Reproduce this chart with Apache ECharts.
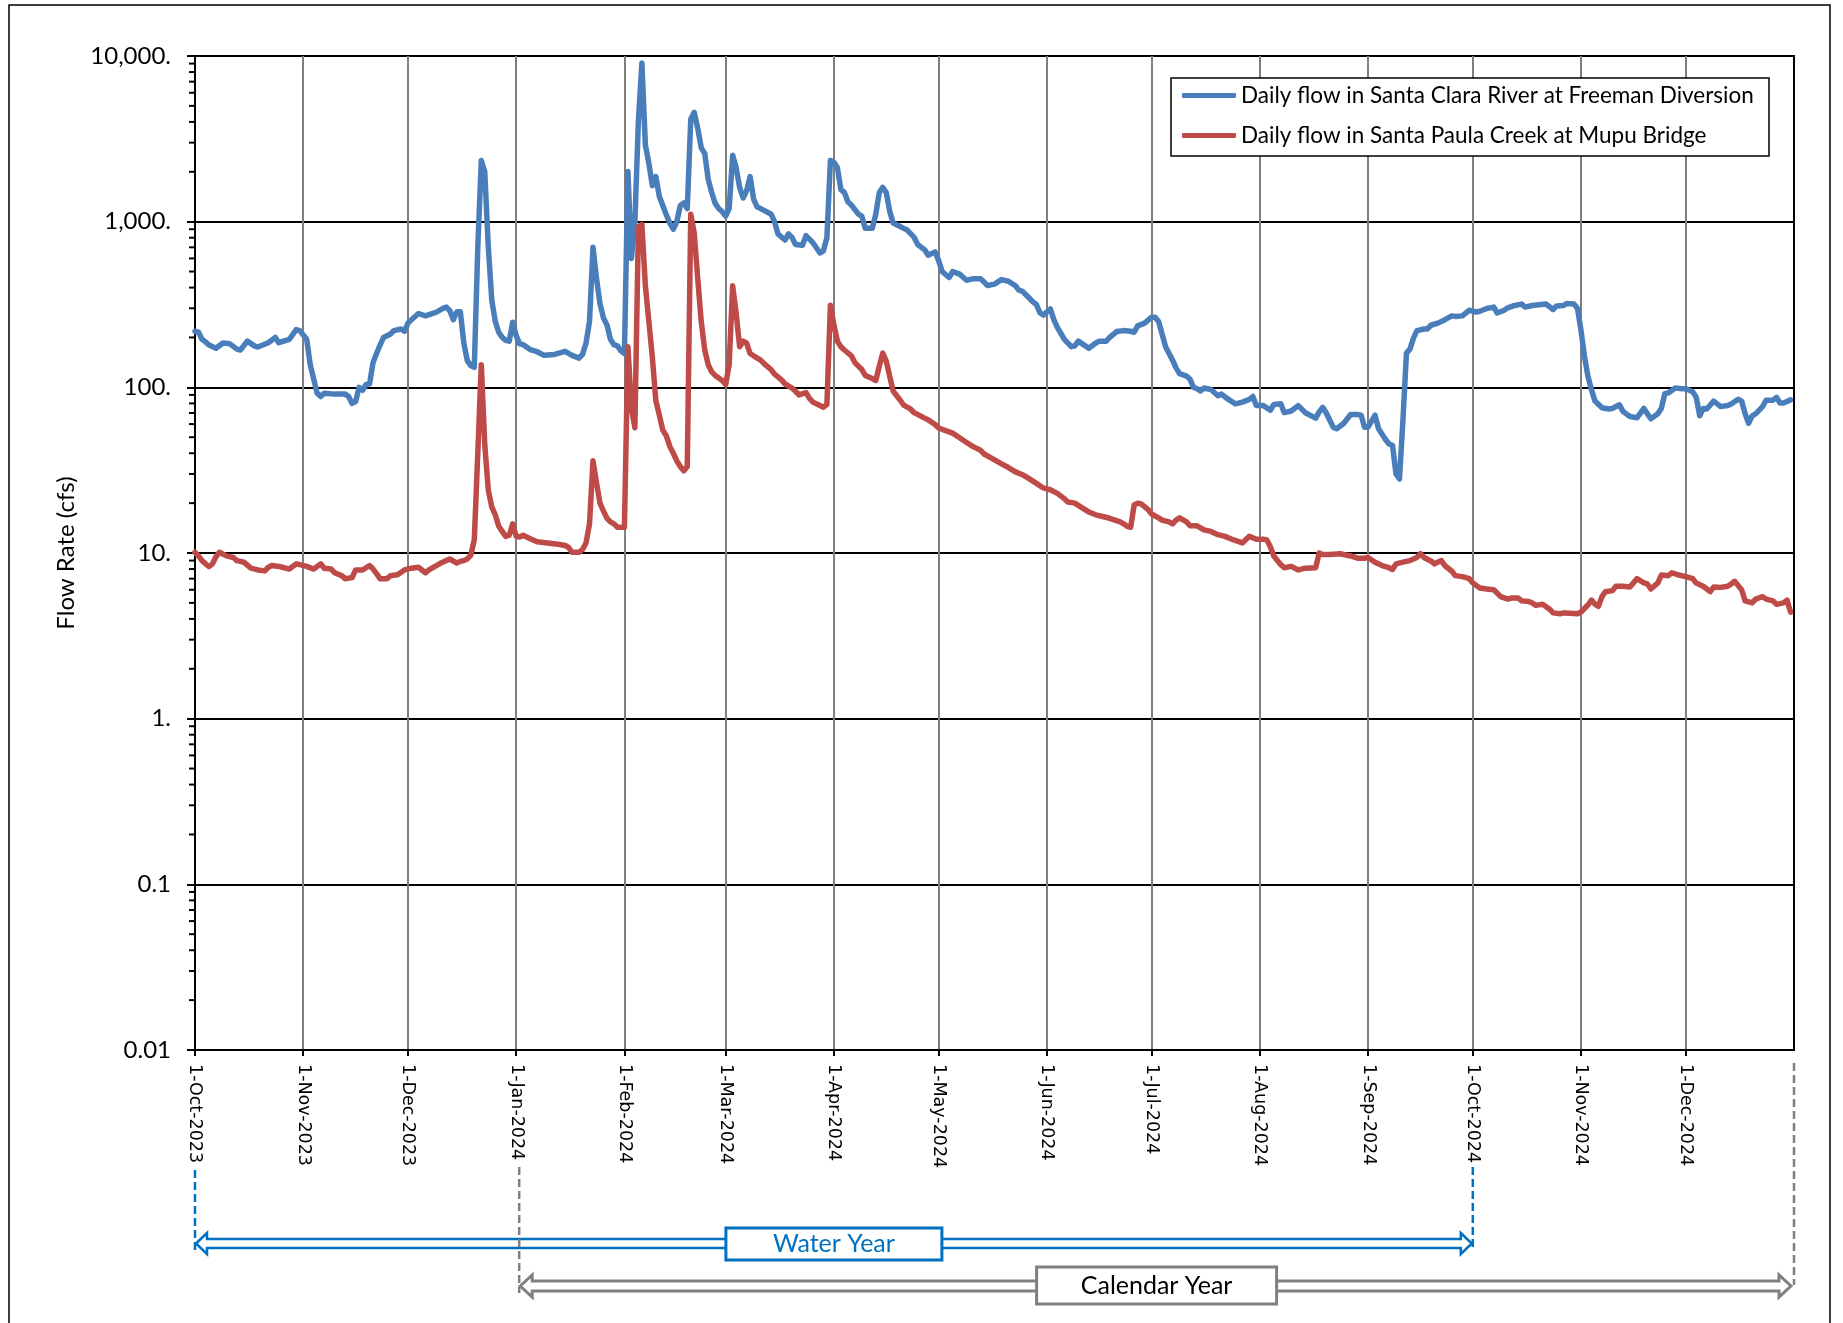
<!DOCTYPE html>
<html>
<head>
<meta charset="utf-8">
<title>Daily flow – Santa Clara River and Santa Paula Creek</title>
<script src="https://cdn.jsdelivr.net/npm/echarts@6/dist/echarts.min.js"></script>
<style>
  html, body { margin: 0; padding: 0; background: #fff; }
  #chart { width: 1843px; height: 1323px; }
</style>
</head>
<body>
<div id="chart"></div>
<script>
// Days are counted from 1-Oct-2023 (start of the 2024 water year).
const startYear = 2023, startMonth = 9, startDate = 1;
const axisEndDay = 458;            // 1-Jan-2025
const waterYearEndDay = 366;       // 1-Oct-2024
const calendarYearStartDay = 92;   // 1-Jan-2024

const monthTickDates = ['2023-10-01','2023-11-01','2023-12-01','2024-01-01','2024-02-01','2024-03-01',
  '2024-04-01','2024-05-01','2024-06-01','2024-07-01','2024-08-01','2024-09-01','2024-10-01',
  '2024-11-01','2024-12-01'];
const monthNames = ['Jan','Feb','Mar','Apr','May','Jun','Jul','Aug','Sep','Oct','Nov','Dec'];
const yTickValues = [0.01, 0.1, 1, 10, 100, 1000, 10000];
const yTickLabels = ['0.01', '0.1', '1.', '10.', '100.', '1,000.', '10,000.'];

const seriesNames = ['Daily flow in Santa Clara River at Freeman Diversion',
                     'Daily flow in Santa Paula Creek at Mupu Bridge'];

// Santa Clara River at Freeman Diversion (cfs)
const santaClaraDay = [0,1,2,3,4,6,8,10,12,13,15,17,18,21,23,24,27,29,30,32,33,35,36,37,40,43,44,45,46,47,48,49,50,51,52,53,54,56,57,59,60,61,62,64,66,69,71,72,73,74,75,76,77,78,79,80,81,82,83,84,85,86,87,88,89,90,91,92,93,94,96,98,100,103,106,108,110,111,112,113,114,115,116,117,118,119,120,121,122,123,124,125,126,127,128,129,130,131,132,133,135,136,137,138,139,140,141,142,143,144,145,146,147,148,149,150,151,152,153,154,155,156,157,158,159,160,161,163,164,165,166,167,169,170,171,172,174,175,176,177,179,180,181,182,183,184,185,186,187,188,190,191,192,194,195,196,197,198,199,200,201,203,204,206,207,209,210,212,213,214,216,217,219,221,223,225,226,227,229,231,233,235,236,237,239,240,241,242,243,245,246,247,248,249,251,252,253,255,256,258,259,261,262,264,266,268,269,270,272,274,275,276,277,278,279,280,281,282,284,285,286,287,288,289,291,293,294,296,298,300,302,303,304,306,308,309,311,312,314,316,318,321,322,323,324,326,327,329,331,333,334,335,336,338,339,341,342,343,344,345,346,347,348,349,350,352,353,354,356,358,360,361,363,365,367,368,370,372,373,375,376,378,380,381,383,385,387,389,390,392,393,395,396,397,398,399,400,401,403,405,406,408,409,411,413,415,416,417,419,420,421,422,424,426,427,429,430,431,432,433,435,437,439,440,442,443,444,445,446,447,449,450,452,453,454,455,457];
const santaClaraFlow = [218,215,195,188,180,172,185,183,170,168,190,178,175,186,200,186,195,223,220,195,137,92,88,92,91,91,88,80,82,100,96,104,105,141,160,180,200,210,220,225,218,244,256,279,270,283,300,305,290,256,286,286,185,145,135,132,700,2340,2000,707,337,250,215,200,192,190,247,205,183,181,169,164,156,158,165,156,150,158,185,250,700,454,320,262,238,195,181,178,166,160,2010,600,1000,4050,9060,2900,2250,1650,1870,1420,1100,980,900,1000,1250,1300,1200,4150,4570,3660,2790,2580,1800,1500,1290,1200,1150,1080,1200,2520,2120,1610,1390,1540,1870,1370,1230,1170,1140,1110,1000,843,775,843,804,728,720,824,784,746,647,667,803,2340,2280,2120,1560,1500,1320,1260,1110,1080,911,911,1110,1500,1610,1500,1150,980,957,911,890,803,728,676,627,657,582,500,460,500,482,443,453,453,432,412,420,447,437,410,386,380,345,328,316,282,273,297,256,230,212,195,176,178,190,178,172,185,190,190,200,217,220,218,215,235,244,265,265,250,210,176,160,146,131,121,117,112,100,98,95,99,97,89,91,84.5,79.5,81.5,84.5,88,77.6,77.6,72.8,78.7,79.5,70.3,72,77.6,70.3,65.2,71,75.7,70.3,57.5,56.2,60.5,68.6,68.6,68,57.5,57.5,68,56.2,48.4,45.5,44.7,30,28,64,161,170,198,220,225,225,237,244,256,270,268,270,292,285,288,299,305,281,292,302,312,318,305,312,315,318,295,310,312,321,318,299,220,153,116,96.5,82.6,75.3,74,74.6,78.5,71.6,66.6,65.5,74.6,69.2,64.6,69.2,74.6,91.6,92.6,99,98,98,94,87,67.3,74.6,74,82.6,76.5,77.6,79.4,84.8,82.6,69.2,60.7,67.3,69.2,76.5,83.6,83.6,87,80.5,80.5,84];

// Santa Paula Creek at Mupu Bridge (cfs)
const santaPaulaDay = [0,1,2,3,4,5,6,7,9,11,12,13,14,16,18,20,21,22,24,25,27,29,30,32,34,36,37,39,40,42,43,45,46,48,50,51,52,53,55,56,58,60,62,64,66,67,70,72,73,75,76,77,78,79,80,81,82,83,84,85,86,87,88,89,90,91,92,93,94,96,98,101,104,106,107,108,110,111,112,113,114,115,116,117,118,119,120,121,123,124,125,126,127,128,129,130,131,132,133,134,135,136,137,138,139,140,141,142,143,144,145,146,147,148,149,150,151,152,153,154,155,156,157,158,159,160,162,163,165,166,168,169,171,172,173,175,176,177,179,180,181,182,183,184,185,186,188,189,191,192,194,195,196,197,198,199,200,202,203,205,206,208,210,212,213,215,217,219,221,223,225,226,228,231,233,235,237,239,241,243,245,247,249,250,252,254,256,258,260,262,265,266,267,268,269,270,271,273,274,276,277,279,280,281,282,284,285,287,289,291,293,295,297,299,300,302,304,306,307,308,309,311,312,314,316,318,321,322,323,325,328,331,333,335,336,338,340,342,343,344,346,348,350,351,352,354,355,357,358,360,361,363,365,366,368,370,372,374,376,377,379,380,382,383,384,386,388,389,391,392,394,396,397,399,400,401,402,403,404,406,407,409,411,413,415,416,417,419,420,422,423,425,427,429,430,432,434,435,437,439,440,441,443,444,446,447,449,450,452,453,455,456,457];
const santaPaulaFlow = [10.1,9.6,9.0,8.6,8.3,8.6,9.5,10.1,9.6,9.4,9.0,8.9,8.8,8.1,7.9,7.8,8.2,8.4,8.3,8.2,8.0,8.6,8.5,8.3,8.0,8.6,8.1,8.0,7.6,7.3,7.0,7.1,7.9,7.9,8.4,8.0,7.5,7.0,7.0,7.3,7.4,7.9,8.1,8.2,7.6,7.9,8.6,9.0,9.2,8.7,8.9,9.0,9.2,9.7,12,40,137,45,24,19,17,14.5,13.5,12.6,12.8,15,12.6,12.5,12.8,12.2,11.7,11.5,11.3,11.1,10.8,10.1,10.1,10.5,11.5,15,36,26.6,20,17.9,16.2,15.4,15,14.3,14.3,176,75,57,930,960,410,250,152,83,68,55,51,44,40,36,33.3,31.3,33.3,1110,850,454,250,168,137,124,118,114,110,104,137,410,280,176,190,185,160,155,146,139,128,120,111,105,99,94.7,90,93,85.7,81.4,77.6,75.9,79,313,238,190,176,168,155,141,128,118,113,110,134,161,144,116,94.7,83.6,78,73.8,70.3,66.8,63.6,59.6,56.8,54.8,52.9,49.6,46.5,43.7,41.7,39.6,37.5,34.5,32.8,30.9,29.7,28,26.3,24.7,24.1,22.9,21.3,20.3,20,18.8,17.7,17,16.6,16.2,15.4,15,14.5,14.3,19.5,20,19.8,18.3,17.2,16.3,15.8,15.4,15,15.8,16.3,15.4,14.6,14.6,13.8,13.5,12.9,12.6,12.1,11.7,11.5,12.6,12.1,12.1,12,10.9,9.6,8.5,8.15,8.3,7.9,8.1,8.15,10,9.8,9.8,9.9,9.6,9.3,9.3,9.4,8.8,8.4,8.15,7.95,8.6,8.8,9.0,9.4,9.9,9.4,8.95,8.6,9.0,8.4,7.76,7.3,7.2,7.0,6.6,6.15,6.06,6.0,5.45,5.27,5.35,5.35,5.14,5.1,5.0,4.83,4.9,4.58,4.35,4.3,4.35,4.33,4.3,4.4,4.87,5.2,4.9,4.77,5.45,5.84,5.93,6.3,6.3,6.23,7.0,6.6,6.5,6.06,6.6,7.36,7.3,7.6,7.36,7.2,7.0,6.58,6.3,5.84,6.23,6.2,6.3,6.5,6.75,6.0,5.14,5.0,5.27,5.45,5.27,5.14,4.9,5.0,5.2,4.4];

const BLUE = '#4A7EBB';
const RED = '#BE4B48';
const WY_BLUE = '#0070C0';
const CY_GREY = '#808080';
const DAY_MS = 86400000;

function dayToDate(d) {
  return new Date(startYear, startMonth, startDate + Math.round(d));
}
function dateToDay(s) {
  const p = s.split('-').map(Number);
  const t = Date.UTC(p[0], p[1] - 1, p[2]);
  return Math.round((t - Date.UTC(startYear, startMonth, startDate)) / DAY_MS);
}
function fmtDate(day) {
  const d = dayToDate(day);
  return d.getDate() + '-' + monthNames[d.getMonth()] + '-' + d.getFullYear();
}
function fmtFlow(v) {
  const i = yTickValues.findIndex(t => Math.abs(Math.log10(t) - Math.log10(v)) < 1e-6);
  return i >= 0 ? yTickLabels[i] : '';
}

const monthTicks = monthTickDates.map(dateToDay);
const clara = santaClaraDay.map((d, i) => [d, santaClaraFlow[i]]);
const paula = santaPaulaDay.map((d, i) => [d, santaPaulaFlow[i]]);

const chart = echarts.init(document.getElementById('chart'), null, { renderer: 'canvas' });

const option = {
  animation: false,
  backgroundColor: '#fff',
  grid: {
    left: 195, top: 56, right: 49, bottom: 273,
    show: true, borderColor: '#000', borderWidth: 2, backgroundColor: 'transparent'
  },
  legend: {
    orient: 'vertical',
    left: 1171, top: 78,
    padding: [5, 12, 8, 11],
    itemGap: 15,
    itemWidth: 54, itemHeight: 5,
    icon: 'roundRect',
    borderColor: '#000', borderWidth: 1.5,
    backgroundColor: '#fff',
    textStyle: { fontFamily: 'Lato', fontSize: 22.5, color: '#000', lineHeight: 25, width: 516 },
    data: seriesNames
  },
  xAxis: {
    type: 'value',
    min: 0,
    max: axisEndDay,
    axisLine: { show: true, lineStyle: { color: '#000', width: 2 } },
    axisTick: { show: true, length: 6, inside: false, lineStyle: { color: '#000', width: 2 }, customValues: monthTicks },
    axisLabel: {
      customValues: monthTicks,
      rotate: -90,
      margin: 14,
      fontFamily: 'DejaVu Sans',
      fontSize: 17.5,
      color: '#000',
      formatter: v => fmtDate(v)
    },
    splitLine: { show: true, lineStyle: { color: '#7f7f7f', width: 2 } }
  },
  yAxis: {
    type: 'log',
    logBase: 10,
    min: 0.01,
    max: 10000,
    name: 'Flow Rate (cfs)',
    nameLocation: 'middle',
    nameRotate: 90,
    nameGap: 117,
    nameTextStyle: { fontFamily: 'Lato', fontSize: 24, color: '#000' },
    axisLine: { show: true, lineStyle: { color: '#000', width: 2 } },
    axisTick: { show: true, length: 8, inside: false, lineStyle: { color: '#000', width: 2 } },
    axisLabel: { margin: 24, fontFamily: 'Lato', fontSize: 24, color: '#000', formatter: v => fmtFlow(v) },
    splitLine: { show: true, lineStyle: { color: '#000', width: 2 } }
  },
  series: [
    {
      name: seriesNames[0], type: 'line', data: clara,
      showSymbol: false, symbol: 'none', color: BLUE,
      lineStyle: { color: BLUE, width: 5.5, join: 'round', cap: 'round' }
    },
    {
      name: seriesNames[1], type: 'line', data: paula,
      showSymbol: false, symbol: 'none', color: RED,
      lineStyle: { color: RED, width: 5.5, join: 'round', cap: 'round' }
    }
  ]
};

chart.setOption(option);

// Decorations that depend on axis positions: log minor ticks and the year brackets.
const xPix = d => chart.convertToPixel({ xAxisIndex: 0 }, d);
const yPix = v => chart.convertToPixel({ yAxisIndex: 0 }, v);

const graphics = [];

// outer frame
graphics.push({
  type: 'rect', z: 0, silent: true,
  shape: { x: 9, y: 5, width: 1821, height: 1360 },
  style: { fill: null, stroke: '#000', lineWidth: 1.5 }
});

// minor ticks on the log axis (2..9 of each decade)
const axisX = xPix(0);
for (let e = -2; e < 4; e++) {
  for (let k = 2; k <= 9; k++) {
    const y = yPix(k * Math.pow(10, e));
    graphics.push({
      type: 'line', z: 10, silent: true,
      shape: { x1: axisX - 6, y1: y, x2: axisX, y2: y },
      style: { stroke: '#000', lineWidth: 2 }
    });
  }
}

function blockArrow(xL, xR, yc, shaftHalf, headHalf, headLen, color, width) {
  return {
    type: 'polygon', z: 20, silent: true,
    shape: {
      points: [
        [xL, yc], [xL + headLen, yc - headHalf], [xL + headLen, yc - shaftHalf],
        [xR - headLen, yc - shaftHalf], [xR - headLen, yc - headHalf], [xR, yc],
        [xR - headLen, yc + headHalf], [xR - headLen, yc + shaftHalf],
        [xL + headLen, yc + shaftHalf], [xL + headLen, yc + headHalf]
      ]
    },
    style: { fill: '#fff', stroke: color, lineWidth: width, lineJoin: 'miter' }
  };
}
function dashed(x, y1, y2, color) {
  return {
    type: 'line', z: 21, silent: true,
    shape: { x1: x, y1: y1, x2: x, y2: y2 },
    style: { stroke: color, lineWidth: 2.5, lineDash: [8, 4] }
  };
}
function labelBox(cx, y, w, h, color, text, textColor) {
  return [
    {
      type: 'rect', z: 22, silent: true,
      shape: { x: cx - w / 2, y: y, width: w, height: h },
      style: { fill: '#fff', stroke: color, lineWidth: 3 }
    },
    {
      type: 'text', z: 23, silent: true,
      x: cx, y: y + h / 2,
      style: {
        text: text, fill: textColor, font: '25px Lato',
        align: 'center', verticalAlign: 'middle',
        textAlign: 'center', textVerticalAlign: 'middle'
      }
    }
  ];
}

// Water Year bracket: 1-Oct-2023 to 1-Oct-2024
const wyL = xPix(0), wyR = xPix(waterYearEndDay);
graphics.push(dashed(wyL, 1170, 1252, WY_BLUE));
graphics.push(dashed(wyR, 1167, 1247, WY_BLUE));
graphics.push(blockArrow(wyL + 1, wyR - 1, 1243.5, 4.5, 10.5, 11, WY_BLUE, 2.5));
graphics.push(...labelBox((wyL + wyR) / 2, 1228, 216, 32, WY_BLUE, 'Water Year', WY_BLUE));

// Calendar Year bracket: 1-Jan-2024 to 1-Jan-2025
const cyL = xPix(calendarYearStartDay) + 3, cyR = xPix(axisEndDay);
graphics.push(dashed(cyL, 1167, 1293, CY_GREY));
graphics.push(dashed(cyR, 1063, 1285, CY_GREY));
graphics.push(blockArrow(cyL + 1, cyR - 3, 1286, 5, 11, 12, CY_GREY, 3));
graphics.push(...labelBox((cyL + cyR) / 2, 1267, 240, 37, CY_GREY, 'Calendar Year', '#000'));

chart.setOption({ graphic: graphics });
</script>
</body>
</html>
